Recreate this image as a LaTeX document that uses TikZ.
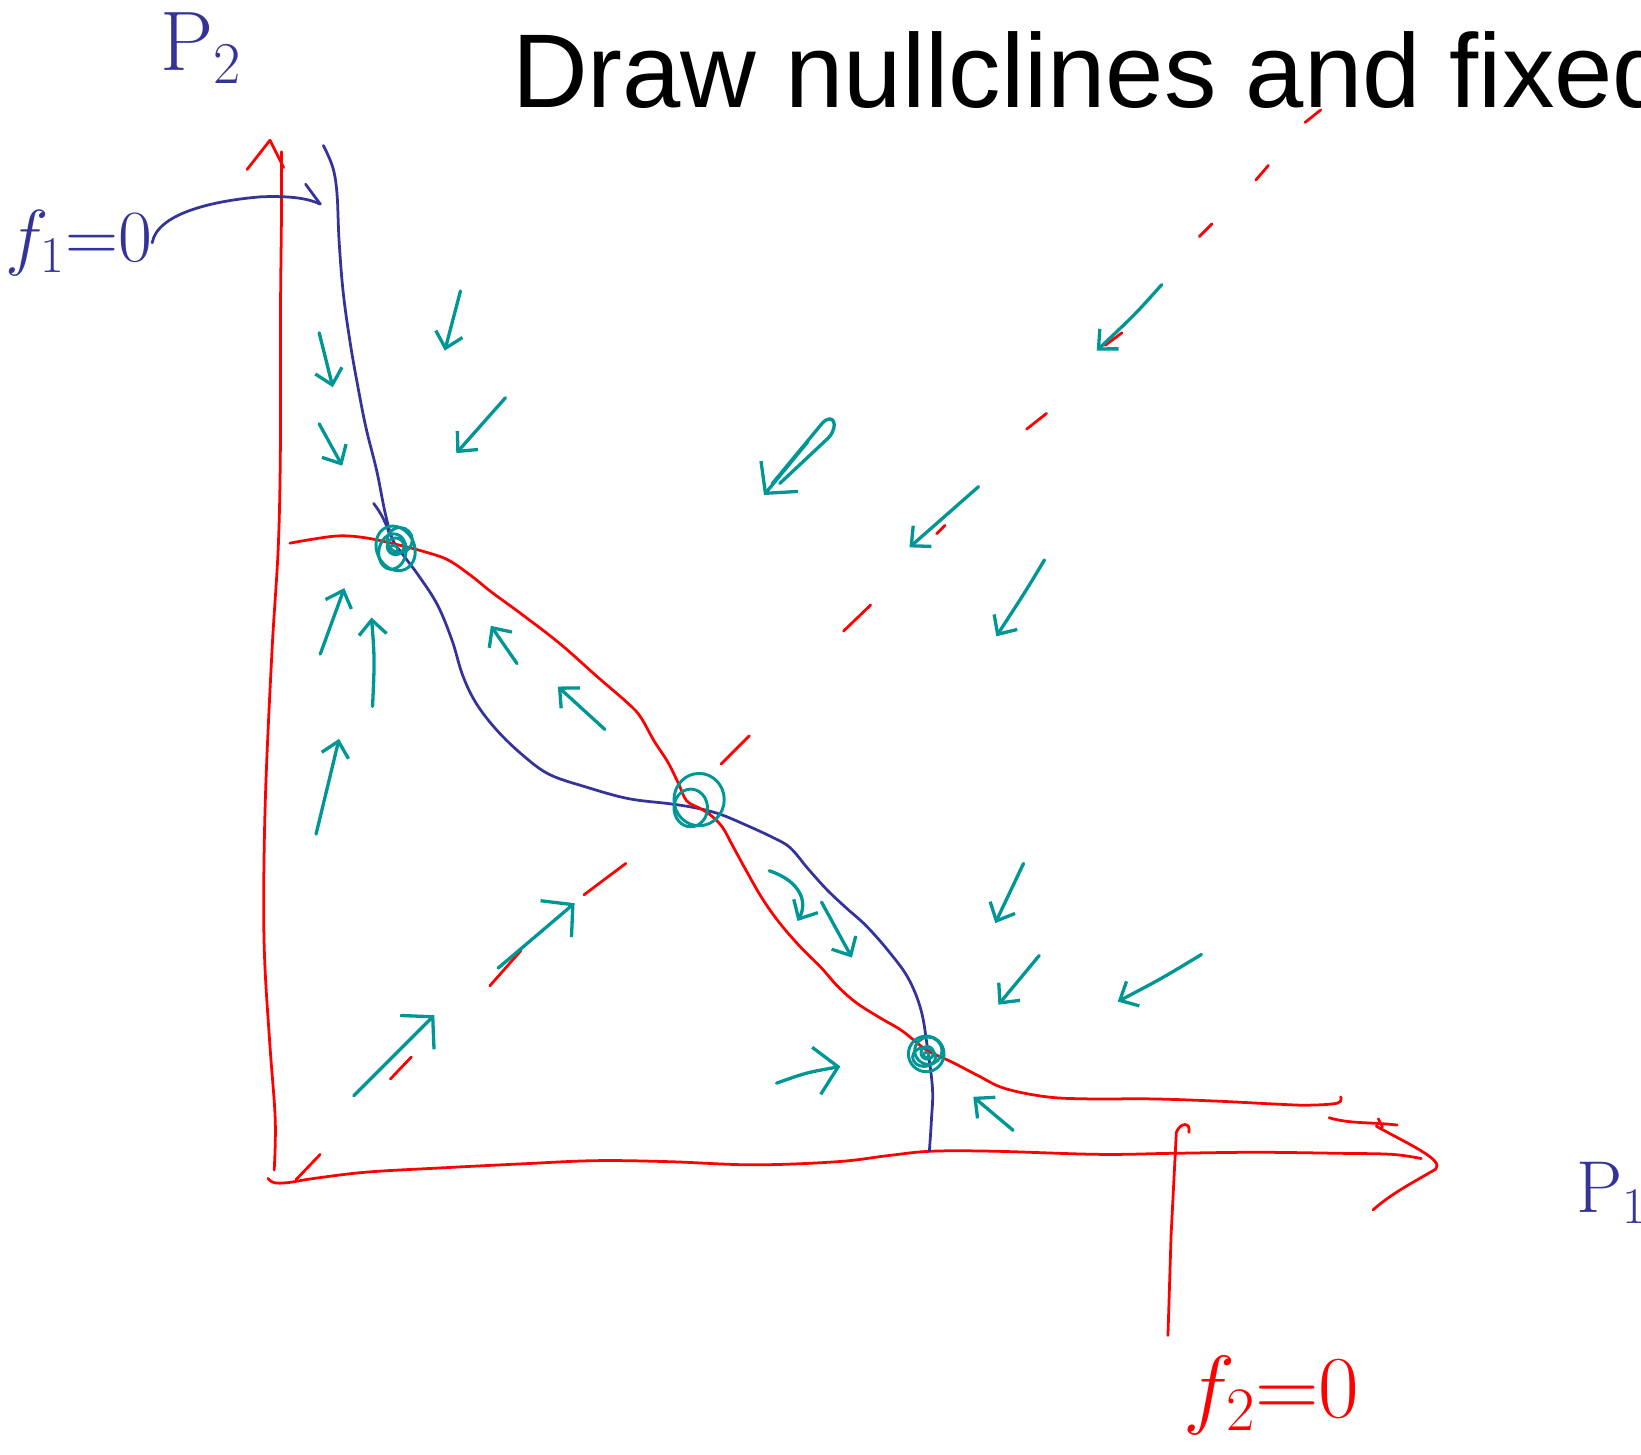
\RequirePackage{fix-cm}
\documentclass[tikz,border=0pt]{standalone}
\usepackage{fontspec}
\newfontfamily\titlefont{Liberation Sans}
\usetikzlibrary{arrows.meta}
\definecolor{nullblue}{RGB}{51,51,153}
\definecolor{flowteal}{RGB}{0,150,150}

\begin{document}
\begin{tikzpicture}[
  x=0.02cm, y=-0.02cm,
  nullone/.style={draw=nullblue,line width=1.5pt,line cap=round,line join=round},
  nulltwo/.style={draw=red,line width=1.5pt,line cap=round,line join=round},
  flow/.style={draw=flowteal,line width=1.8pt,line cap=round,-{Straight Barb[length=8pt,width=15pt]}},
  bigflow/.style={flow,-{Straight Barb[length=12pt,width=26pt]}},
  fixpt/.style={draw=flowteal,line width=1.6pt},
  hand/.style={inner sep=0pt}
]
\useasboundingbox (0,0) rectangle (1568,1390);
\clip (0,0) rectangle (1568,1390);
% title, runs off the page
\node[anchor=base west,inner sep=0pt,font=\titlefont\fontsize{57}{68}\selectfont] (title) at (489,103)
  {Draw nullclines and fixed points};
% axis labels
\node[hand,text=nullblue,font=\fontsize{46}{54}\selectfont] (ptwo) at (192,46) {$\mathrm{P}_2$};
\node[hand,text=nullblue,font=\fontsize{40}{48}\selectfont,anchor=west] (pone) at (1506,1140) {$\mathrm{P}_1$};
\node[hand,text=nullblue,font=\fontsize{40}{48}\selectfont] (fonelab) at (75,232) {$f_1{=}0$};
\node[hand,text=red,font=\fontsize{48}{56}\selectfont] (ftwolab) at (1215,1333) {$f_2{=}0$};
% axes (red)
\draw[nulltwo] plot[smooth,tension=0.6] coordinates {(262,1118) (263,1070) (258,1000) (253,920) (252,850)
  (254,750) (260,620) (266,520) (268,420) (268,300) (269,200) (269,145)};
\draw[nulltwo] (236,162) -- (258,134) -- (271,160);
\draw[nulltwo] plot[smooth,tension=0.6] coordinates {(256,1126) (262,1130) (275,1130) (300,1126) (350,1120)
  (420,1116) (500,1112) (570,1109) (640,1110) (720,1113) (800,1110) (850,1104) (890,1100) (950,1100)
  (1050,1103) (1120,1102) (1200,1101) (1280,1102) (1330,1103) (1358,1107)};
\draw[nulltwo] (1315,1076) .. controls (1345,1093) and (1380,1108) .. (1372,1117)
  .. controls (1350,1130) and (1330,1140) .. (1312,1156);
\draw[nulltwo] (1270,1068) .. controls (1290,1074) and (1310,1072) .. (1335,1075);
\draw[nulltwo] (1317,1069) -- (1321,1077);
% f1 = 0 nullcline (blue)
\draw[nullone] plot[smooth,tension=0.6] coordinates {(309,139) (318,160) (322,185) (324,230) (328,280)
  (335,330) (343,375) (350,410) (360,450) (368,490) (375,515) (385,530) (400,550) (418,578) (432,612)
  (442,645) (455,672) (475,698) (500,722) (525,740) (560,752) (600,763) (640,768) (665,772) (688,778)
  (712,788) (738,800) (755,810) (772,830) (790,850) (808,867) (828,885) (850,910) (868,935) (880,965)
  (886,1000) (891,1040) (890,1070) (888,1100)};
\draw[nullone] (357,481) .. controls (364,490) and (369,500) .. (372,510);
\draw[nullone] (fonelab.east) .. controls (150,205) and (200,192) .. (250,188)
  .. controls (280,187) and (295,190) .. (306,195);
\draw[nullone] (292,176) -- (306,195);
% f2 = 0 nullcline (red)
\draw[nulltwo] plot[smooth,tension=0.6] coordinates {(277,519) (300,515) (325,512) (350,514) (378,520)
  (405,527) (428,535) (450,550) (470,566) (500,588) (535,615) (570,646) (600,672) (612,685) (625,708)
  (638,728) (648,748) (656,765) (668,772) (678,778) (690,790) (700,808) (712,830) (728,858) (745,882)
  (765,905) (785,925) (800,942) (818,958) (840,972) (862,985) (885,1003) (910,1015) (935,1028)
  (960,1040) (1000,1048) (1040,1050) (1100,1050) (1160,1052) (1220,1055) (1250,1056) (1278,1054) (1281,1048)};
\draw[nulltwo] (1116,1276) -- (1119,1180) -- (1124,1082) .. controls (1128,1072) and (1138,1072) .. (1136,1082);
% separatrix, dashed by hand
\foreach \xa/\ya/\xb/\yb in {283/1127/306/1103, 373/1031/393/1010, 468/942/498/908, 558/855/598/825,
  689/730/716/703, 806/603/832/578, 895/510/903/502, 981/410/1000/395, 1056/330/1072/318,
  1146/226/1158/214, 1200/172/1212/158, 1247/117/1262/105}{
  \draw[nulltwo] (\xa,\ya) -- (\xb,\yb);
}
% flow arrows
\foreach \xa/\ya/\xb/\yb in {305/318/318/370, 305/405/327/445, 440/278/425/335, 483/380/436/433,
  935/465/869/523, 306/625/329/562, 302/797/324/706, 494/634/469/598, 578/697/533/656,
  785/862/814/915, 978/825/951/882, 993/913/954/960, 968/1080/930/1048}{
  \draw[flow] (\xa,\ya) -- (\xb,\yb);
}
\draw[flow] (1110,272) .. controls (1085,300) .. (1048,335);
\draw[flow] (998,535) .. controls (980,565) .. (952,608);
\draw[flow] (1148,912) .. controls (1110,935) .. (1068,957);
\draw[flow] (356,675) .. controls (358,630) .. (355,590);
\draw[flow] (735,832) .. controls (765,842) and (772,862) .. (762,880);
\draw[bigflow] (772,422) -- (730,473);
\draw[flow,-] (738,462) -- (786,404) .. controls (796,394) and (802,406) .. (792,418) -- (745,462);
\draw[bigflow] (476,925) -- (549,863);
\draw[bigflow] (338,1047) -- (415,970);
\draw[bigflow] (742,1035) .. controls (770,1025) .. (803,1019);
% fixed points
\draw[fixpt] (378,524) ellipse [x radius=18, y radius=22, rotate=25];
\draw[fixpt] (375,527) ellipse [x radius=13, y radius=17, rotate=-10];
\draw[fixpt] (382,516) circle [radius=12];
\draw[fixpt] (378,522) circle [radius=8];
\draw[fixpt] (376,525) circle [radius=4];
\draw[fixpt] (668,764) ellipse [x radius=24, y radius=25];
\draw[fixpt] (660,772) ellipse [x radius=16, y radius=18];
\draw[fixpt] (885,1007) circle [radius=17];
\draw[fixpt] (887,1004) circle [radius=13];
\draw[fixpt] (883,1010) ellipse [x radius=11, y radius=9];
\draw[fixpt] (886,1006) circle [radius=6];
\draw[fixpt] (885,1008) circle [radius=2.5];
\end{tikzpicture}
\end{document}
